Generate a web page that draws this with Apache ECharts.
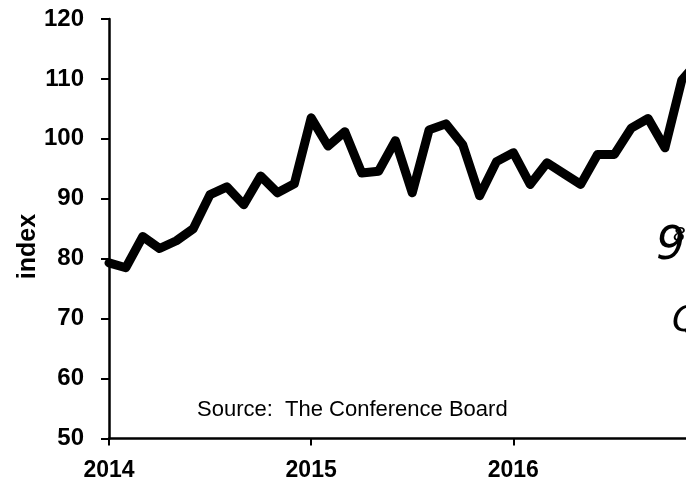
<!DOCTYPE html>
<html>
<head>
<meta charset="utf-8">
<script src="https://cdn.jsdelivr.net/npm/echarts@6/dist/echarts.min.js"></script>
<style>
html,body{margin:0;padding:0;background:#fff;}
#chart{width:686px;height:484px;}
</style>
</head>
<body>
<div id="chart"></div>
<script>
// Monthly index values, Jan 2014 .. Dec 2016
var months = ['2014-01','2014-02','2014-03','2014-04','2014-05','2014-06','2014-07','2014-08','2014-09','2014-10','2014-11','2014-12',
              '2015-01','2015-02','2015-03','2015-04','2015-05','2015-06','2015-07','2015-08','2015-09','2015-10','2015-11','2015-12',
              '2016-01','2016-02','2016-03','2016-04','2016-05','2016-06','2016-07','2016-08','2016-09','2016-10','2016-11','2016-12'];
var values2014 = [79.3, 78.5, 83.7, 81.7, 83.0, 85.0, 90.7, 92.0, 89.0, 93.8, 91.0, 92.5];
var values2015 = [103.5, 98.8, 101.2, 94.3, 94.6, 99.7, 91.0, 101.5, 102.5, 99.0, 90.5, 96.2];
var values2016 = [97.7, 92.4, 96.0, 94.2, 92.4, 97.4, 97.4, 101.8, 103.4, 98.5, 109.8, 113.0];
var yearLabels = ['2014', '2015', '2016'];
var yearTickMonths = [0, 12, 24];
var xMaxMonths = 34.25;
var yTicks = { min: 50, max: 120, step: 10 };
var sourceNote = 'Source:  The Conference Board';
var yAxisName = 'index';
var handNotes = ['9', '8', 'Q'];

var allValues = values2014.concat(values2015, values2016);
var seriesData = allValues.map(function (v, i) { return [i, v]; });

var chart = echarts.init(document.getElementById('chart'), null, { renderer: 'canvas' });
var font = 'Liberation Sans, Arial, sans-serif';
chart.setOption({
  animation: false,
  backgroundColor: '#fff',
  grid: { left: 109, right: 0, top: 19, bottom: 45.5, containLabel: false },
  xAxis: {
    type: 'value',
    min: 0,
    max: xMaxMonths,
    splitLine: { show: false },
    axisLine: { show: true, onZero: false, lineStyle: { color: '#000', width: 2.5 } },
    axisTick: { show: true, length: 7, customValues: yearTickMonths, lineStyle: { color: '#000', width: 2 } },
    axisLabel: {
      margin: 21,
      color: '#000',
      fontFamily: font,
      fontWeight: 'bold',
      fontSize: 23,
      customValues: yearTickMonths,
      formatter: function (v) { return yearLabels[Math.round(v / 12)] || ''; }
    }
  },
  yAxis: {
    type: 'value',
    min: yTicks.min,
    max: yTicks.max,
    interval: yTicks.step,
    splitLine: { show: false },
    axisLine: { show: true, lineStyle: { color: '#000', width: 2.5 } },
    axisTick: { show: true, length: 8, lineStyle: { color: '#000', width: 2 } },
    axisLabel: { margin: 25, color: '#000', fontFamily: font, fontWeight: 'bold', fontSize: 24 }
  },
  series: [{
    type: 'line',
    data: seriesData,
    showSymbol: false,
    symbol: 'none',
    clip: true,
    lineStyle: { color: '#000', width: 9, join: 'round', cap: 'round' }
  }],
  graphic: [
    { type: 'text', x: 28, y: 246.5, rotation: Math.PI / 2,
      style: { text: yAxisName, fill: '#000', font: 'bold 25px ' + font, align: 'center', verticalAlign: 'middle' } },
    { type: 'text', left: 197, top: 399, style: { text: sourceNote, fill: '#000', font: '22px ' + font } },
    { type: 'text', left: 656, top: 224, style: { text: handNotes[0], fill: '#000', font: 'italic 46px DejaVu Sans, sans-serif' } },
    { type: 'text', left: 673, top: 226, style: { text: handNotes[1], fill: '#000', font: 'italic 20px DejaVu Sans, sans-serif' } },
    { type: 'text', left: 672, top: 304, style: { text: handNotes[2], fill: '#000', font: 'italic 36px DejaVu Sans, sans-serif' } }
  ]
});
</script>
</body>
</html>
